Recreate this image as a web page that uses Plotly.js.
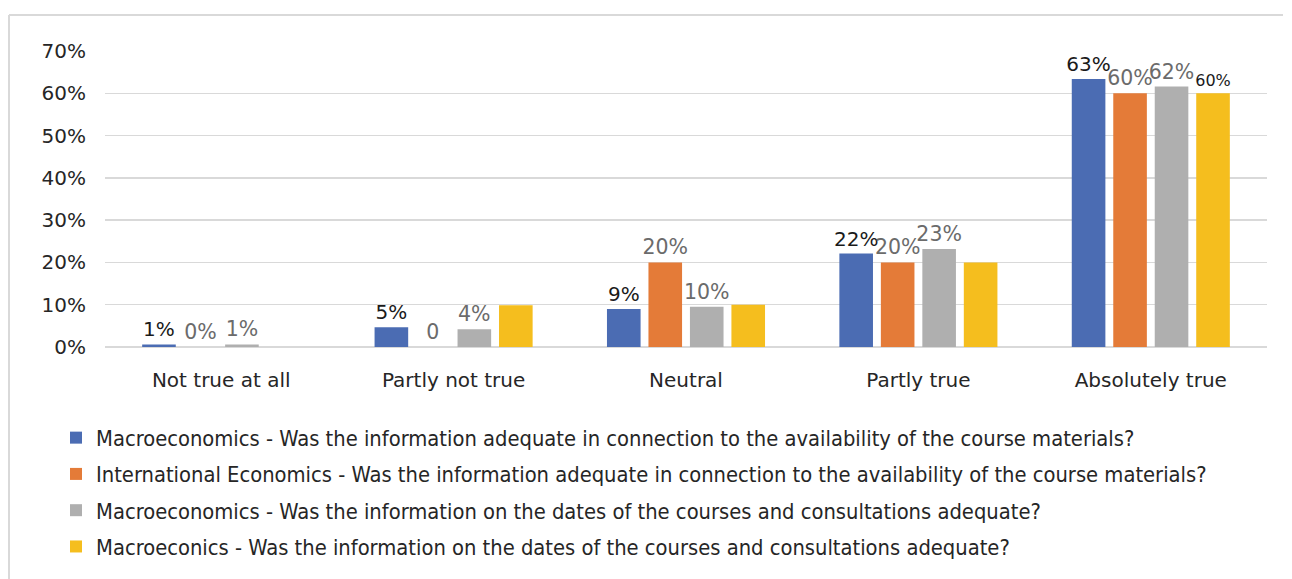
<!DOCTYPE html>
<html>
<head>
<meta charset="utf-8">
<script src="https://cdn.plot.ly/plotly-3.0.1.min.js"></script>
<style>html,body{margin:0;padding:0;background:#fff;}#chart{width:1292px;height:579px;}</style>
</head>
<body>
<div id="chart"></div>
<script>
const categories = ["Not true at all", "Partly not true", "Neutral", "Partly true", "Absolutely true"];

const seriesNames = [
  "Macroeconomics - Was the information adequate in connection to the availability of the course materials?",
  "International Economics - Was the information adequate in connection to the availability of the course materials?",
  "Macroeconomics - Was the information on the dates of the courses and consultations adequate?",
  "Macroeconics - Was the information on the dates of the courses and consultations adequate?"
];

const macroMaterials = [0.006, 0.047, 0.090, 0.221, 0.634];
const intlMaterials  = [0.000, 0.000, 0.200, 0.200, 0.600];
const macroDates     = [0.006, 0.042, 0.095, 0.232, 0.616];
const macroecDates   = [0.000, 0.099, 0.100, 0.200, 0.600];

const macroMaterialsLabels = ["1%", "5%", "9%", "22%", "63%"];
const intlMaterialsLabels  = ["0%", "0", "20%", "20%", "60%"];
const macroDatesLabels     = ["1%", "4%", "10%", "23%", "62%"];
const macroecDatesLabels   = ["", "", "", "", "60%"];

const yTickVals = [0, 0.1, 0.2, 0.3, 0.4, 0.5, 0.6, 0.7];
const yTickText = ["0%", "10%", "20%", "30%", "40%", "50%", "60%", "70%"];

const colors = ["#4b6cb3", "#e47b38", "#afafaf", "#f5be1e"];
const labelColors = ["#1a1a1a", "#6b6b6b", "#6b6b6b", "#1a1a1a"];
const labelSizes = [20, 20.5, 20.5, 16];

const values = [macroMaterials, intlMaterials, macroDates, macroecDates];
const labels = [macroMaterialsLabels, intlMaterialsLabels, macroDatesLabels, macroecDatesLabels];

const traces = values.map((v, i) => ({
  type: "bar",
  name: seriesNames[i],
  x: categories,
  y: v,
  text: labels[i],
  texttemplate: "%{text}",
  textposition: "outside",
  constraintext: "none",
  cliponaxis: false,
  textfont: {family: "DejaVu Sans, Verdana, sans-serif", size: labelSizes[i], color: labelColors[i]},
  marker: {color: colors[i], line: {width: 0}},
  legendgroup: "g" + i,
  hoverinfo: "none"
}));

const font = "DejaVu Sans, Verdana, sans-serif";

const layout = {
  width: 1292,
  height: 579,
  margin: {l: 105, r: 25, t: 51, b: 232, autoexpand: false},
  paper_bgcolor: "#ffffff",
  plot_bgcolor: "#ffffff",
  barmode: "group",
  bargap: 0.286,
  bargroupgap: 0.19,
  showlegend: true,
  font: {family: font, size: 20, color: "#333333"},
  xaxis: {
    type: "category",
    showgrid: false,
    zeroline: false,
    showline: false,
    ticks: "",
    tickangle: 0,
    automargin: false,
    ticklabelstandoff: 19,
    tickfont: {family: font, size: 20, color: "#262626"}
  },
  yaxis: {
    range: [0, 0.7],
    tickvals: yTickVals,
    ticktext: yTickText,
    showgrid: true,
    gridcolor: "#d9d9d9",
    gridwidth: 1.5,
    zeroline: true,
    zerolinecolor: "#d9d9d9",
    zerolinewidth: 1.5,
    showline: false,
    ticks: "",
    automargin: false,
    ticklabelstandoff: 18,
    tickfont: {family: font, size: 20, color: "#262626"}
  },
  legend: {
    orientation: "v",
    x: (56 - 105) / 1162,
    y: (347 - 417) / 296,
    xanchor: "left",
    yanchor: "top",
    tracegroupgap: 5,
    traceorder: "grouped",
    font: {family: "DejaVu Sans Condensed, DejaVu Sans, sans-serif", size: 21.75, color: "#262626"},
    bgcolor: "rgba(0,0,0,0)"
  },
  shapes: [
    {type: "line", xref: "paper", yref: "paper", x0: (9 - 105) / 1162, x1: (1283 - 105) / 1162, y0: (347 - 15) / 296, y1: (347 - 15) / 296, line: {color: "#d9d9d9", width: 2}},
    {type: "line", xref: "paper", yref: "paper", x0: (9 - 105) / 1162, x1: (9 - 105) / 1162, y0: (347 - 15) / 296, y1: (347 - 590) / 296, line: {color: "#d9d9d9", width: 2}}
  ]
};

Plotly.newPlot("chart", traces, layout, {displayModeBar: false, staticPlot: true});
</script>
</body>
</html>
